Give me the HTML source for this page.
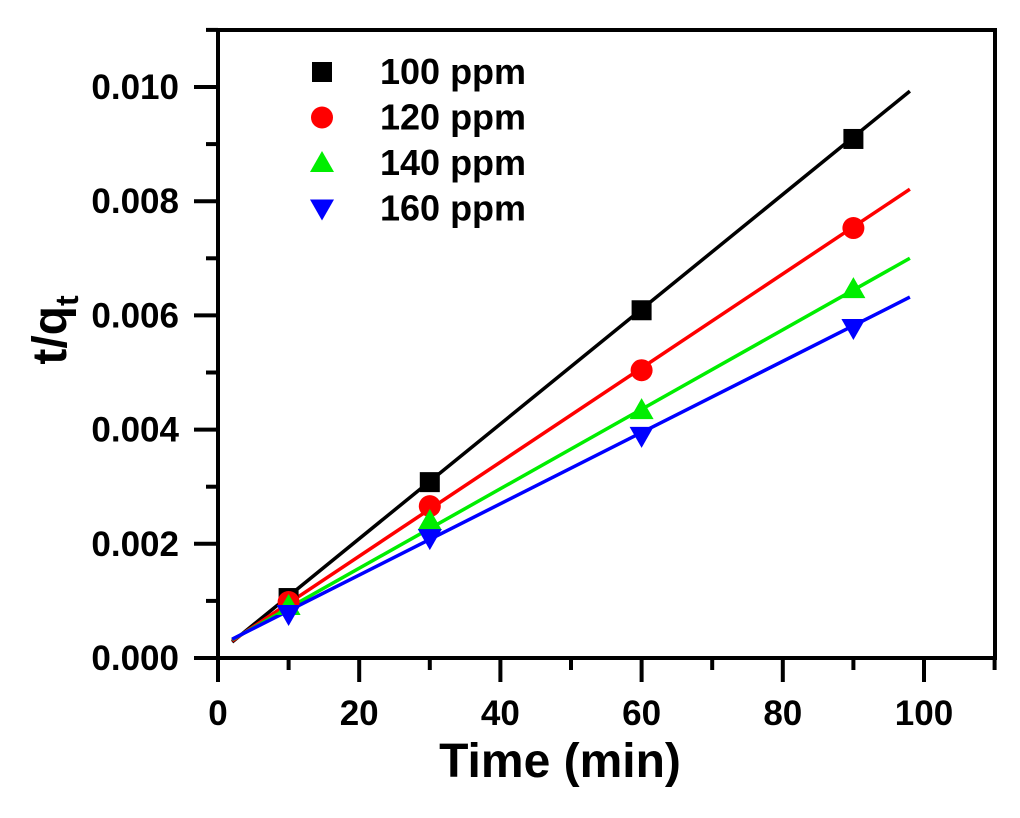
<!DOCTYPE html>
<html><head><meta charset="utf-8"><style>
html,body{margin:0;padding:0;background:#fff}
svg{display:block;font-family:"Liberation Sans",Arial,sans-serif;font-weight:bold}
</style></head><body>
<svg id="chart" width="1020" height="818" viewBox="0 0 1020 818">
<rect x="218" y="30" width="777" height="628" fill="none" stroke="#000" stroke-width="4"/>
<g id="axes"></g><g id="lines"></g><g id="marks"></g><g id="legend"></g>
<text x="560" y="777" text-anchor="middle" font-size="48">Time (min)</text>
<text transform="translate(66,330) rotate(-90)" text-anchor="middle" font-size="48">t/q<tspan font-size="32" dy="12">t</tspan></text>
</svg>
<script>
const times=[10,30,60,90];
const series=["100 ppm","120 ppm","140 ppm","160 ppm"];
const v100=[0.00105,0.00308,0.00609,0.00909];
const v120=[0.00098,0.00266,0.00504,0.00753];
const v140=[0.00091,0.00240,0.00434,0.00646];
const v160=[0.00077,0.00210,0.00389,0.00578];
const slopes=[0.0001005,0.0000824,0.0000696,0.0000624];
const intercepts=[0.000079,0.000135,0.00018,0.000205];
const xTicks=[0,20,40,60,80,100];
const yTicks=[0,0.002,0.004,0.006,0.008,0.010];
const colors=["#000000","#ff0000","#00ee00","#0000ff"];
const shapes=["square","circle","up","down"];
const X=v=>218+v*7.06, Y=v=>658-v*57100;
const NS="http://www.w3.org/2000/svg";
function mk(t,a,p){const e=document.createElementNS(NS,t);for(const k in a)e.setAttribute(k,a[k]);p.appendChild(e);return e;}
const ax=document.getElementById('axes');
for(let v=0;v<=110;v+=10){const maj=v%20===0;const l=mk('line',{x1:X(v),x2:X(v),y1:658,y2:maj?682:670,stroke:'#000','stroke-width':4},ax);

}
xTicks.forEach(v=>{const t=mk('text',{x:X(v),y:725,'text-anchor':'middle','font-size':35},ax);t.textContent=v;

});
for(let i=0;i<=11;i++){const v=i*0.001;const maj=i%2===0;const l=mk('line',{x1:maj?194:206,x2:218,y1:Y(v),y2:Y(v),stroke:'#000','stroke-width':4},ax);

}
yTicks.forEach(v=>{const t=mk('text',{x:179,y:Y(v)+12,'text-anchor':'end','font-size':35},ax);t.textContent=v.toFixed(3);

});
function marker(s,cx,cy,c,p){let e;
if(s==='square')e=mk('rect',{x:cx-10,y:cy-10,width:20,height:20,fill:c},p);
else if(s==='circle')e=mk('circle',{cx,cy,r:11,fill:c},p);
else if(s==='up')e=mk('polygon',{points:`${cx},${cy-12} ${cx-12},${cy+9} ${cx+12},${cy+9}`,fill:c},p);
else e=mk('polygon',{points:`${cx},${cy+12} ${cx-12},${cy-9} ${cx+12},${cy-9}`,fill:c},p);return e;}
const lg=document.getElementById('lines'),mg=document.getElementById('marks'),leg=document.getElementById('legend');
const vals=[v100,v120,v140,v160];
series.forEach((n,i)=>{
const l=mk('line',{x1:X(2),y1:Y(intercepts[i]+slopes[i]*2),x2:X(98),y2:Y(intercepts[i]+slopes[i]*98),stroke:colors[i],'stroke-width':3.5},lg);


vals[i].forEach((v,j)=>{const m=marker(shapes[i],X(times[j]),Y(v),colors[i],mg);

});
const ly=72+i*45.5;
const lm=marker(shapes[i],322,ly,colors[i],leg);


const t=mk('text',{x:380,y:ly+12,'font-size':36},leg);t.textContent=n;


});
</script>
</body></html>
